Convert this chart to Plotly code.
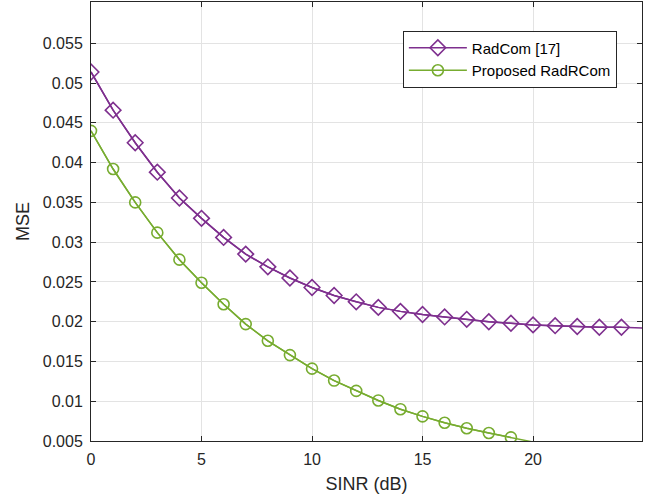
import plotly.graph_objects as go

sinr = list(range(0, 26))
radcom = [0.0514, 0.0466, 0.0425, 0.0388, 0.03555, 0.0330, 0.0306, 0.0285, 0.0269, 0.0255,
          0.0243, 0.0233, 0.0225, 0.0218, 0.0213, 0.0209, 0.0206, 0.0203, 0.0200, 0.0198,
          0.0196, 0.0195, 0.0194, 0.0193, 0.0193, 0.0192]
sinr_prop = list(range(0, 21))
proposed = [0.0440, 0.0392, 0.0350, 0.0312, 0.0278, 0.0249, 0.0222, 0.0197, 0.0176, 0.0158,
            0.0141, 0.0126, 0.0113, 0.0101, 0.0090, 0.0081, 0.0073, 0.0066, 0.0060, 0.00545,
            0.00487]
ytickvals = [0.005, 0.01, 0.015, 0.02, 0.025, 0.03, 0.035, 0.04, 0.045, 0.05, 0.055]
yticktext = ["0.005", "0.01", "0.015", "0.02", "0.025", "0.03", "0.035", "0.04", "0.045", "0.05", "0.055"]
xtickvals = [0, 5, 10, 15, 20]

X_MAX = 24.93
Y_MIN, Y_MAX = 0.005, 0.0602

purple = "#7E2F8E"
green = "#77AC30"
FONT = "Liberation Sans, Arial, Helvetica"

def in_range(xs, ys):
    px, py = [], []
    for x, y in zip(xs, ys):
        if 0 <= x <= X_MAX and Y_MIN <= y <= Y_MAX:
            px.append(x)
            py.append(y)
    return px, py

fig = go.Figure()
fig.add_trace(go.Scatter(x=sinr, y=radcom, mode="lines", line=dict(color=purple, width=1.5),
                         showlegend=False, hoverinfo="skip"))
fig.add_trace(go.Scatter(x=sinr_prop, y=proposed, mode="lines", line=dict(color=green, width=1.5),
                         showlegend=False, hoverinfo="skip"))
rx, ry = in_range(sinr, radcom)
gx, gy = in_range(sinr_prop, proposed)
fig.add_trace(go.Scatter(x=rx, y=ry, mode="lines+markers", name="RadCom [17]",
                         line=dict(color=purple, width=1.5),
                         marker=dict(symbol="diamond-open", size=12, color=purple,
                                     line=dict(width=1.6, color=purple))))
fig.add_trace(go.Scatter(x=gx, y=gy, mode="lines+markers", name="Proposed RadRCom",
                         line=dict(color=green, width=1.5),
                         marker=dict(symbol="circle-open", size=11, color=green,
                                     line=dict(width=1.6, color=green))))

axis_common = dict(showline=True, linecolor="#262626", linewidth=1, mirror="ticks",
                   ticks="inside", ticklen=5, tickcolor="#262626",
                   showgrid=True, gridcolor="#e3e3e3", gridwidth=1, zeroline=False,
                   automargin=False,
                   tickfont=dict(family=FONT, size=16, color="#262626"))

fig.update_layout(
    width=653, height=500,
    margin=dict(l=91, r=11, t=2, b=59),
    plot_bgcolor="white", paper_bgcolor="white",
    font=dict(family=FONT, color="#262626"),
    xaxis=dict(range=[0, X_MAX], tickvals=xtickvals, ticklabelstandoff=4,
               title=dict(text="SINR (dB)", font=dict(size=18, color="#262626"), standoff=10),
               **axis_common),
    yaxis=dict(range=[Y_MIN, Y_MAX], tickvals=ytickvals, ticktext=yticktext, ticklabelstandoff=4,
               title=dict(text="MSE", font=dict(size=18, color="#262626"), standoff=8),
               **axis_common),
    legend=dict(x=0.566, y=0.935, xanchor="left", yanchor="top",
                bgcolor="white", bordercolor="#262626", borderwidth=1, itemwidth=58,
                font=dict(family=FONT, size=15, color="#000000"), tracegroupgap=0),
)

fig.write_html("out.html", config={"displayModeBar": False},
               post_script="document.body.style.margin='0';document.body.style.overflow='hidden';")
